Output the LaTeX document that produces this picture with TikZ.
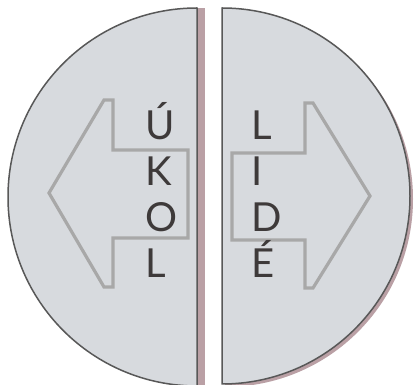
\documentclass[tikz,border=0pt]{standalone}
\usepackage{fontspec}
\newfontfamily\letterfont{Lato}
\definecolor{diskfill}{RGB}{215,218,222}
\definecolor{diskedge}{RGB}{88,88,88}
\definecolor{shadowpink}{RGB}{186,160,165}
\definecolor{arrowgray}{RGB}{168,168,168}
\definecolor{lettergray}{RGB}{62,58,58}
\tikzset{
  halfdisk/.style={fill=diskfill, draw=diskedge, line width=1.5pt, line join=round},
  diskshadow/.style={fill=shadowpink},
  arrowline/.style={draw=arrowgray, line width=3.2pt, line join=miter},
  letter/.style={anchor=base west, inner sep=0pt, text=lettergray,
                 font=\letterfont\fontsize{40}{41}\selectfont},
}

\begin{document}
\begin{tikzpicture}[x=1pt, y=1pt]
\useasboundingbox (0,0) rectangle (415,385);
\fill[white] (0,0) rectangle (415,385);
% left half
\fill[diskshadow] (197,377) rectangle (205,0);
\draw[halfdisk] (197,377) arc[start angle=90, end angle=270, radius=189] -- cycle;
% right half
\fill[diskshadow] (225,374) arc[start angle=90, end angle=-90, radius=188] -- cycle;
\draw[halfdisk] (222,377) arc[start angle=90, end angle=-90, radius=188] -- cycle;
% arrows
\draw[arrowline] (49,192) -- (104,285) -- (113,285) -- (113,235) -- (188,235)
  -- (188,147) -- (113,147) -- (113,98) -- (104,98) -- cycle;
\draw[arrowline] (370,189) -- (313,282) -- (305,282) -- (305,232) -- (232,232)
  -- (232,145) -- (305,145) -- (305,97) -- (313,97) -- cycle;
% letters
\node[letter] (u) at (145,245) {Ú};
\node[letter] (k) at (145,199) {K};
\node[letter] (o) at (145,153) {O};
\node[letter] (l) at (145,107) {L};
\node[letter] (l2) at (251,245) {L};
\node[letter] (i) at (251,199) {I};
\node[letter] (d) at (251,153) {D};
\node[letter] (e) at (251,107) {É};
\end{tikzpicture}
\end{document}
